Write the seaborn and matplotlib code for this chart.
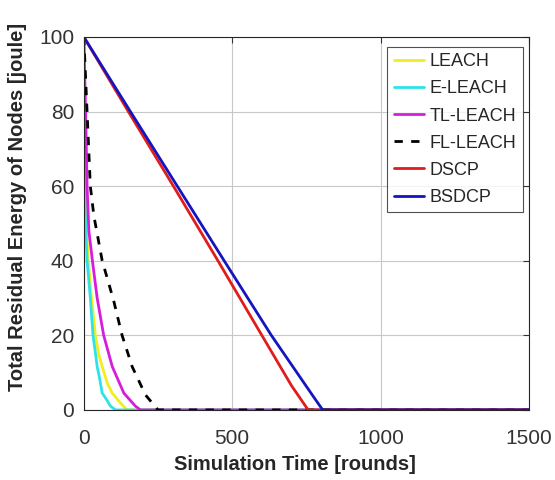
import matplotlib
matplotlib.use("Agg")
import matplotlib.pyplot as plt
import seaborn as sns
import pandas as pd

# ---- data ----
leach_x = [0, 4, 8, 15, 26, 39, 50, 62, 80, 96, 124, 146, 1500]
leach_y = [100, 65, 50, 40, 30, 20, 15, 11.6, 7, 4.5, 1.8, 0, 0]

eleach_x = [0, 3, 6, 11, 22, 31, 38, 45, 52, 62, 75, 90, 107, 1500]
eleach_y = [100, 65, 50, 40, 30, 20, 16, 11.6, 9, 4.5, 3, 1, 0, 0]

tlleach_x = [0, 6, 11, 17, 29, 45, 67, 96, 135, 174, 191, 1500]
tlleach_y = [100, 80, 60, 48, 40, 30, 20, 11.6, 4.5, 1, 0, 0]

flleach_x = [0, 11, 22, 34, 62, 100, 129, 163, 208, 250, 1500]
flleach_y = [100, 80, 60, 52, 40, 29.5, 20, 11.6, 4, 0, 0]

dscp_x = [0, 150, 302, 452, 600, 700, 756, 1500]
dscp_y = [100, 80, 60, 40, 20, 6.5, 0, 0]

bsdcp_x = [0, 157, 315, 473, 632, 770, 805, 1500]
bsdcp_y = [100, 80, 60, 40, 20, 4, 0, 0]

series_names = ["LEACH", "E-LEACH", "TL-LEACH", "FL-LEACH", "DSCP", "BSDCP"]
xticks = [0, 500, 1000, 1500]
yticks = [0, 20, 40, 60, 80, 100]

sns.set_style("white")
plt.rcParams['font.family'] = ['Liberation Sans', 'DejaVu Sans']

frames = []
for name, xs, ys in zip(series_names,
                        [leach_x, eleach_x, tlleach_x, flleach_x, dscp_x, bsdcp_x],
                        [leach_y, eleach_y, tlleach_y, flleach_y, dscp_y, bsdcp_y]):
    frames.append(pd.DataFrame({"x": xs, "y": ys, "series": name}))
df = pd.concat(frames, ignore_index=True)

colors = {"LEACH": "#f2ee1e", "E-LEACH": "#2ee2e8", "TL-LEACH": "#d81cdc",
          "FL-LEACH": "#000000", "DSCP": "#e01c1c", "BSDCP": "#1414c0"}
styles = {"LEACH": "-", "E-LEACH": "-", "TL-LEACH": "-",
          "FL-LEACH": (0, (3, 3)), "DSCP": "-", "BSDCP": "-"}

fig = plt.figure(figsize=(5.55, 4.8), dpi=100)
ax = fig.add_axes([0.151, 0.146, 0.802, 0.777])

for name in series_names:
    sub = df[df["series"] == name]
    sns.lineplot(data=sub, x="x", y="y", ax=ax, color=colors[name],
                 linestyle=styles[name], linewidth=2.0, label=name,
                 estimator=None, sort=False)

ax.set_xlim(0, 1500)
ax.set_ylim(0, 100)
ax.set_xticks(xticks)
ax.set_yticks(yticks)
ax.tick_params(axis='both', direction='in', length=4, width=0.8,
               labelsize=15, colors='#333333', top=True, right=True)
ax.tick_params(axis='x', pad=14)
ax.tick_params(axis='y', pad=7)
ax.grid(True, color='#c8c8c8', linewidth=0.8)
for s in ax.spines.values():
    s.set_color('#262626')
    s.set_linewidth(0.8)

ax.set_xlabel("Simulation Time [rounds]", fontsize=14.5, fontweight='bold',
              color='#262626')
ax.set_ylabel("Total Residual Energy of Nodes [joule]", fontsize=14.5,
              fontweight='bold', color='#262626')
ax.xaxis.set_label_coords(0.474, -0.122)
ax.yaxis.set_label_coords(-0.128, 0.544)

leg = ax.legend(loc='upper right', bbox_to_anchor=(0.9865, 0.973), fontsize=13,
                frameon=True, fancybox=False, edgecolor='#262626',
                handlelength=1.7, handletextpad=0.3, labelspacing=0.56,
                borderpad=0.35, borderaxespad=0)
leg.get_frame().set_linewidth(0.8)

fig.savefig("out.png", dpi=100)
